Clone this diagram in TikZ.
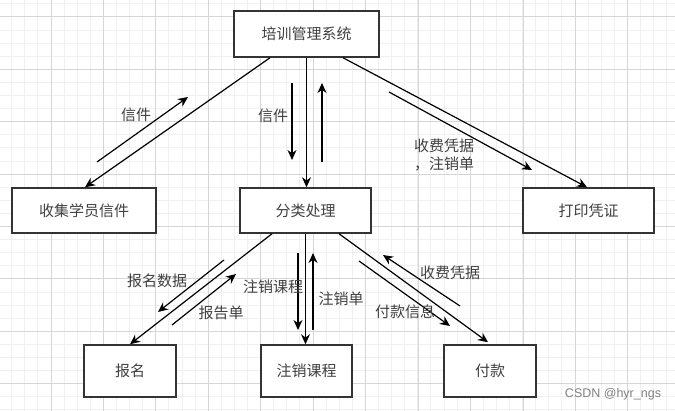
\documentclass[tikz,border=0pt]{standalone}
\usepackage{fontspec}
\setmainfont{Noto Sans CJK SC}
\newfontfamily\markfont{Liberation Sans}
\usetikzlibrary{arrows.meta}
\colorlet{box edge}{black!80}
\colorlet{label text}{black!75}
\colorlet{grid minor}{black!6}
\colorlet{grid major}{black!16}
\tikzset{box/.style={draw=box edge, line width=1.5pt, fill=white, inner sep=0pt,
        text=label text, font=\fontsize{15}{18}\selectfont},
    flow/.style={draw=black, line width=1.2pt, -{Stealth[length=10pt,width=9pt]}},
    tag/.style={text=label text, font=\fontsize{15}{18}\selectfont, inner sep=0pt}}

\begin{document}
\begin{tikzpicture}[x=1pt, y=-1pt]
    \useasboundingbox (0,0) rectangle (675,411);
    \fill[white] (0,0) rectangle (675,411);
    % grid
    \foreach \x in {11.7,24.8,...,675} \draw[grid minor, line width=1pt] (\x,0) -- (\x,411);
    \foreach \y in {3.9,17,...,411} \draw[grid minor, line width=1pt] (0,\y) -- (675,\y);
    \foreach \x in {51,103.45,...,675} \draw[grid major, line width=1pt] (\x,0) -- (\x,411);
    \foreach \y in {17,69.4,...,411} \draw[grid major, line width=1pt] (0,\y) -- (675,\y);

    \node[box, minimum width=145pt, minimum height=46pt] (sys) at (306.5,34) {培训管理系统};
    \node[box, minimum width=144pt, minimum height=45pt] (collect) at (84,210.5) {收集学员信件};
    \node[box, minimum width=131pt, minimum height=45pt] (sort) at (305.5,210.5) {分类处理};
    \node[box, minimum width=131pt, minimum height=45pt] (print) at (588.5,210.5) {打印凭证};
    \node[box, minimum width=92pt, minimum height=52pt] (enrol) at (130,371) {报名};
    \node[box, minimum width=91pt, minimum height=52pt] (cancel) at (306.5,371) {注销课程};
    \node[box, minimum width=92pt, minimum height=52pt] (pay) at (490,371) {付款};

    % connectors between boxes
    \draw[flow] ([xshift=-36.5pt]sys.south) -- ([xshift=1pt]collect.north);
    \draw[flow] (sys.south) -- (sys.south |- sort.north);
    \draw[flow] ([xshift=36.5pt]sys.south) -- ([xshift=-1.5pt]print.north);
    \draw[flow] ([xshift=-33.5pt]sort.south) -- (enrol.north);
    \draw[flow] (sort.south) -- (sort.south |- cancel.north);
    \draw[flow] ([xshift=33.5pt]sort.south) -- ([xshift=-2pt,yshift=2pt]pay.north);

    % free arrows
    \coordinate (mailA) at (97,162);   \coordinate (mailB) at (188,97);
    \coordinate (downA) at (292,83);   \coordinate (downB) at (292,160);
    \coordinate (upA) at (322,162);    \coordinate (upB) at (322,83);
    \coordinate (billA) at (389,92);   \coordinate (billB) at (532,170);
    \coordinate (dataA) at (224,260);  \coordinate (dataB) at (158,312);
    \coordinate (repA) at (172,325);   \coordinate (repB) at (236,274);
    \coordinate (cdownA) at (298,253); \coordinate (cdownB) at (298,330);
    \coordinate (cupA) at (313,330);   \coordinate (cupB) at (313,253);
    \coordinate (feeA) at (460,306);   \coordinate (feeB) at (383,255);
    \coordinate (infoA) at (359,261);  \coordinate (infoB) at (450,326);
    \foreach \a in {mail,down,up,bill,data,rep,cdown,cup,fee,info}
        \draw[flow] (\a A) -- (\a B);

    % labels
    \node[tag] (lmail) at (136,115) {信件};
    \node[tag] (lsort) at (273,116) {信件};
    \node[tag, align=left] (lbill) at (444,155) {收费凭据\\，注销单};
    \node[tag] (ldata) at (157,281) {报名数据};
    \node[tag] (lrep) at (221,313) {报告单};
    \node[tag] (lcourse) at (273,287) {注销课程};
    \node[tag] (lslip) at (341,299) {注销单};
    \node[tag] (lfee) at (450,273) {收费凭据};
    \node[tag] (linfo) at (405,312) {付款信息};
    \node[text=black!50, font=\markfont\fontsize{12.5}{14}\selectfont, inner sep=0pt] (mark) at (613,394) {CSDN @hyr\_ngs};
\end{tikzpicture}
\end{document}
